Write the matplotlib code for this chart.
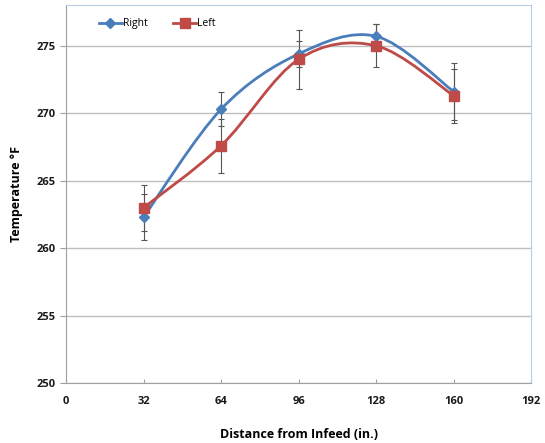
import numpy as np
import matplotlib.pyplot as plt
from matplotlib.path import Path
from matplotlib.patches import PathPatch

# data
distance = [32, 64, 96, 128, 160]
right_temp = [262.3, 270.3, 274.4, 275.7, 271.6]
left_temp = [263.0, 267.6, 274.0, 275.0, 271.3]
right_err = [1.7, 1.25, 0.95, 0.9, 2.1]
left_err = [1.7, 2.0, 2.2, 1.6, 2.0]

x_ticks = [0, 32, 64, 96, 128, 160, 192]
y_ticks = [250, 255, 260, 265, 270, 275]

blue = "#4a7ebb"
red = "#be4b48"

plt.rcParams['font.family'] = ['Open Sans', 'DejaVu Sans']


def smooth_path(xs, ys):
    # Excel-style smoothed line: cubic bezier through points (catmull-rom controls)
    xs = np.asarray(xs, float)
    ys = np.asarray(ys, float)
    n = len(xs)
    verts = [(xs[0], ys[0])]
    codes = [Path.MOVETO]
    for i in range(n - 1):
        p0 = i - 1 if i > 0 else i
        p3 = i + 2 if i + 2 < n else i + 1
        c1 = (xs[i] + (xs[i + 1] - xs[p0]) / 6, ys[i] + (ys[i + 1] - ys[p0]) / 6)
        c2 = (xs[i + 1] - (xs[p3] - xs[i]) / 6, ys[i + 1] - (ys[p3] - ys[i]) / 6)
        verts += [c1, c2, (xs[i + 1], ys[i + 1])]
        codes += [Path.CURVE4] * 3
    return Path(verts, codes)


fig = plt.figure(figsize=(5.45, 4.43), dpi=100)
ax = fig.add_axes([0.121, 0.135, 0.854, 0.853])

ax.set_xlim(0, 192)
ax.set_ylim(250, 278)
ax.set_xticks(x_ticks)
ax.set_yticks(y_ticks)
ax.grid(axis='y', color='#bfbfbf', lw=1)
ax.set_axisbelow(True)

for ys, errs, col, mk, ms, lab in [
        (right_temp, right_err, blue, 'D', 5, 'Right'),
        (left_temp, left_err, red, 's', 7, 'Left')]:
    ax.errorbar(distance, ys, yerr=errs, fmt='none', ecolor='#555555',
                elinewidth=0.8, capsize=2.5, capthick=0.8, zorder=2)
    ax.add_patch(PathPatch(smooth_path(distance, ys), fill=False,
                           edgecolor=col, lw=2, zorder=3))
    ax.plot(distance, ys, ls='none', marker=mk, ms=ms, color=col, zorder=4)
    ax.plot([], [], color=col, lw=2, marker=mk, ms=ms, label=lab)

leg = ax.legend(loc='upper left', bbox_to_anchor=(0.05, 0.99), ncol=2,
                frameon=False, fontsize=7.5, handlelength=2.2,
                handletextpad=0.1, columnspacing=2.5)

for s in ['top', 'right']:
    ax.spines[s].set_color('#b8cce4')
for s in ['left', 'bottom']:
    ax.spines[s].set_color('#a0a0a0')

ax.tick_params(axis='x', direction='in', length=3, color='#a0a0a0',
               labelsize=8, pad=9, labelcolor='#1a1a1a')
ax.tick_params(axis='y', direction='out', length=4, color='#a0a0a0',
               labelsize=8, labelcolor='#1a1a1a')
for t in ax.get_xticklabels() + ax.get_yticklabels():
    t.set_fontweight('bold')

ax.set_xlabel('Distance from Infeed (in.)', fontsize=9, fontweight='bold', labelpad=15)
ax.set_ylabel('Temperature °F', fontsize=9, fontweight='bold', labelpad=10)

fig.savefig('out.png', dpi=100)
